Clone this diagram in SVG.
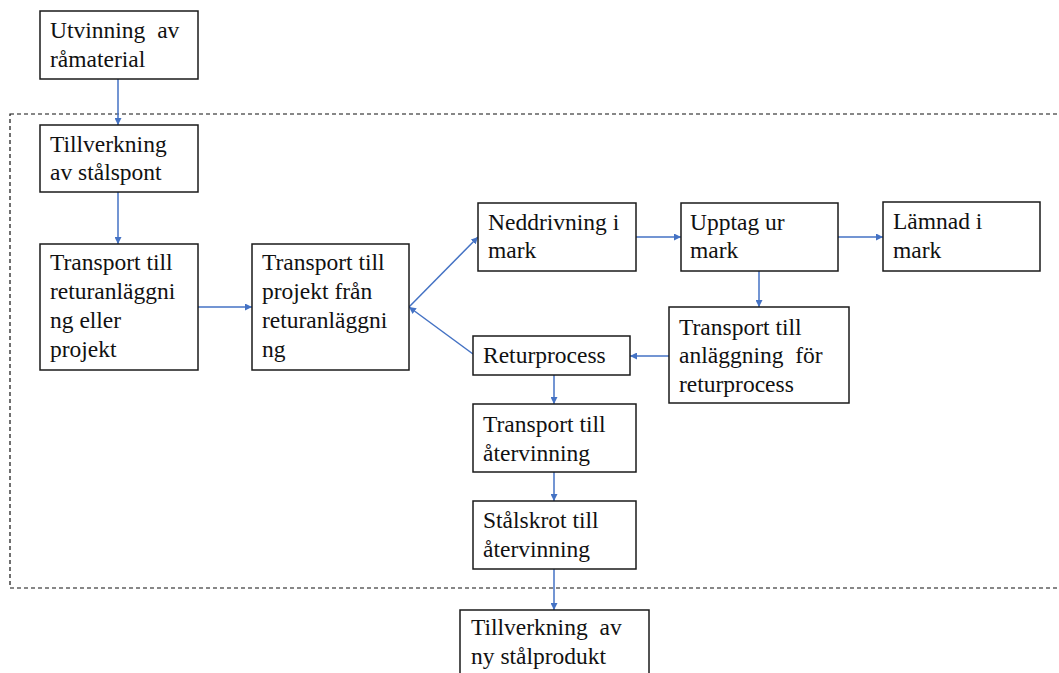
<svg xmlns="http://www.w3.org/2000/svg" width="1059" height="673" viewBox="0 0 1059 673">
<style>
.box{fill:#fff;stroke:#1a1a1a;stroke-width:1.5}
.t{font-family:"Liberation Serif","Times New Roman",serif;font-size:23.5px;fill:#111}
.c{stroke:#4472C4;stroke-width:1.5;fill:none;marker-end:url(#ah)}
.frame{fill:none;stroke:#111;stroke-width:1.2;stroke-dasharray:4 3}
</style>
<defs>
<marker id="ah" viewBox="0 0 10 10" refX="10" refY="5" markerWidth="7" markerHeight="7" orient="auto" markerUnits="userSpaceOnUse">
<path d="M0,0 L10,5 L0,10 z" fill="#4472C4"/>
</marker>
</defs>
<rect width="1059" height="673" fill="#fff"/>
<rect id="boundary" class="frame" x="10" y="114" width="1060" height="474"/>
<g id="connectors">
<line class="c" x1="118" y1="79" x2="118" y2="125"/>
<line class="c" x1="118" y1="192" x2="118" y2="244"/>
<line class="c" x1="198" y1="307" x2="252" y2="307"/>
<line class="c" x1="409" y1="307" x2="478" y2="237"/>
<line class="c" x1="636" y1="237" x2="681" y2="237"/>
<line class="c" x1="838" y1="237" x2="883" y2="237"/>
<line class="c" x1="759" y1="271" x2="759" y2="307"/>
<line class="c" x1="669" y1="356" x2="630" y2="356"/>
<line class="c" x1="473" y1="354" x2="409" y2="307"/>
<line class="c" x1="554" y1="375" x2="554" y2="404"/>
<line class="c" x1="554" y1="472" x2="554" y2="501"/>
<line class="c" x1="554" y1="569" x2="554" y2="610"/>
</g>
<g id="n1"><rect class="box" x="40" y="11" width="158" height="68"/>
<text class="t" x="50" y="38" word-spacing="6">Utvinning av</text><text class="t" x="50" y="67">råmaterial</text></g>
<g id="n2"><rect class="box" x="40" y="125" width="158" height="67"/>
<text class="t" x="50" y="152">Tillverkning</text><text class="t" x="50" y="180">av stålspont</text></g>
<g id="n3"><rect class="box" x="40" y="244" width="158" height="126"/>
<text class="t" x="50" y="270">Transport till</text><text class="t" x="50" y="299">returanläggni</text><text class="t" x="50" y="328">ng eller</text><text class="t" x="50" y="357">projekt</text></g>
<g id="n4"><rect class="box" x="252" y="244" width="157" height="126"/>
<text class="t" x="262" y="270">Transport till</text><text class="t" x="262" y="299">projekt från</text><text class="t" x="262" y="328">returanläggni</text><text class="t" x="262" y="357">ng</text></g>
<g id="n5"><rect class="box" x="478" y="203" width="158" height="68"/>
<text class="t" x="488" y="230">Neddrivning i</text><text class="t" x="488" y="258">mark</text></g>
<g id="n6"><rect class="box" x="681" y="203" width="157" height="68"/>
<text class="t" x="690" y="230">Upptag ur</text><text class="t" x="690" y="258">mark</text></g>
<g id="n7"><rect class="box" x="883" y="202" width="157" height="69"/>
<text class="t" x="893" y="229">Lämnad i</text><text class="t" x="893" y="258">mark</text></g>
<g id="n8"><rect class="box" x="669" y="307" width="180" height="96"/>
<text class="t" x="679" y="335">Transport till</text><text class="t" x="679" y="363" word-spacing="6">anläggning för</text><text class="t" x="679" y="392">returprocess</text></g>
<g id="n9"><rect class="box" x="473" y="336" width="157" height="39"/>
<text class="t" x="483" y="363">Returprocess</text></g>
<g id="n10"><rect class="box" x="473" y="404" width="163" height="68"/>
<text class="t" x="483" y="432">Transport till</text><text class="t" x="483" y="461">återvinning</text></g>
<g id="n11"><rect class="box" x="473" y="501" width="163" height="68"/>
<text class="t" x="483" y="528">Stålskrot till</text><text class="t" x="483" y="557">återvinning</text></g>
<g id="n12"><rect class="box" x="460" y="610" width="189" height="80"/>
<text class="t" x="471" y="635" word-spacing="6">Tillverkning av</text><text class="t" x="471" y="664">ny stålprodukt</text></g>
</svg>
